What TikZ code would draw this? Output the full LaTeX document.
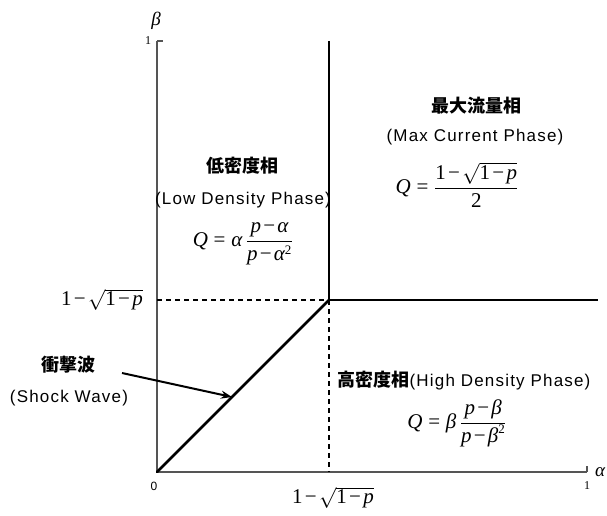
\documentclass[tikz,border=0pt]{standalone}
\usepackage{fontspec}
\setmainfont{Liberation Sans}[LetterSpace=7]
\newfontfamily\cjk{Noto Sans CJK JP}
\newfontfamily\tms{Liberation Serif}
\newcommand\mi[1]{\mbox{\tms\itshape #1}}
\newcommand\mr[1]{\mbox{\tms #1}}
\newcommand\mminus{\mskip2mu\mbox{\tms −}\mskip2mu}
\newcommand\meq{\mathrel{\mbox{\tms =}}}
\newcommand\msq{^{\mbox{\tms\fontsize{13}{13}\selectfont 2}}}
\usetikzlibrary{arrows.meta}
\definecolor{axisgray}{RGB}{85,85,85}
\tikzset{
  axisline/.style={draw=axisgray, line width=1.4pt},
  phaseline/.style={draw=black, line width=2.5pt},
  dashline/.style={draw=black, line width=2.2pt, dash pattern=on 5pt off 4pt},
  lbl/.style={inner sep=0pt, anchor=center, font=\fontsize{17}{20}\selectfont},
  cjklbl/.style={inner sep=0pt, anchor=center, font=\fontsize{18}{20}\selectfont\cjk\bfseries},
  mathlbl/.style={inner sep=0pt, anchor=center, font=\fontsize{21}{24}\selectfont},
  ticklbl/.style={inner sep=0pt, anchor=center, font=\fontsize{12}{12}\selectfont},
}
\begin{document}
\begin{tikzpicture}[x=1pt,y=-1pt]
\useasboundingbox (0,0) rectangle (607,516);
% key points
\coordinate (O) at (157,472);
\coordinate (Ytop) at (157,41);
\coordinate (Xend) at (587,472);
\coordinate (T) at (329,300);
\coordinate (Ttop) at (329,41);
\coordinate (Tright) at (598,300);
\coordinate (Ty) at (157,300);
\coordinate (Tx) at (329,472);
\coordinate (Astart) at (122,373);
\coordinate (Aend) at (232,397);
% axes
\draw[axisline] (Ytop) -- (O) -- (Xend);
\draw[axisline] (Ytop) -- ++(6,0);
\draw[axisline] (Xend) -- ++(0,-6);
% phase boundaries
\draw[dashline] (Ty) -- (T);
\draw[dashline] (T) -- (Tx);
\draw[phaseline] (Ttop) -- (T) -- (Tright);
\draw[phaseline, line cap=round] (O) -- (T);
% arrow
\draw[line width=2pt, -{Stealth[length=11pt,width=8pt]}] (Astart) -- (Aend);
% axis labels
\node[inner sep=0pt, font=\fontsize{19}{20}\selectfont] (beta) at (156,21) {\mi{β}};
\node[inner sep=0pt, font=\fontsize{19}{20}\selectfont] (alpha) at (600,472) {\mi{α}};
\node[ticklbl] (y1) at (148,41) {\tms 1};
\node[ticklbl] (x1) at (587,486) {\tms 1};
\node[ticklbl] (zero) at (154,486) {0};
\node[mathlbl] (ylab) at (102,300) {$\mr{1}\mminus\sqrt{\mr{1}\mminus\mi{p}}$};
\node[mathlbl] (xlab) at (333,498) {$\mr{1}\mminus\sqrt{\mr{1}\mminus\mi{p}}$};
% low density
\node[cjklbl] (ldj) at (242,166) {低密度相};
\node[lbl] (lde) at (243,200) {(Low Density Phase)};
\node[mathlbl] (ldq) at (243,244) {$\displaystyle \mi{Q}\meq\mi{α}\,\frac{\mi{p}\mminus\mi{α}}{\mi{p}\mminus\mi{α}\msq}$};
% max current
\node[cjklbl] (mcj) at (476,106) {最大流量相};
\node[lbl] (mce) at (475,137) {(Max Current Phase)};
\node[mathlbl] (mcq) at (457,185) {$\displaystyle \mi{Q}\meq\frac{\mr{1}\mminus\sqrt{\mr{1}\mminus\mi{p}}}{\mr{2}}$};
% high density
\node[inner sep=0pt, anchor=center] (hd) at (464,381) {{\fontsize{18}{20}\selectfont\cjk\bfseries 高密度相}{\fontsize{17}{20}\selectfont(High Density Phase)}};
\node[mathlbl] (hdq) at (457,423) {$\displaystyle \mi{Q}\meq\mi{β}\,\frac{\mi{p}\mminus\mi{β}}{\mi{p}\mminus\mi{β}\msq}$};
% shock wave
\node[cjklbl] (swj) at (68,365) {衝撃波};
\node[lbl] (swe) at (69,398) {(Shock Wave)};
\end{tikzpicture}
\end{document}
